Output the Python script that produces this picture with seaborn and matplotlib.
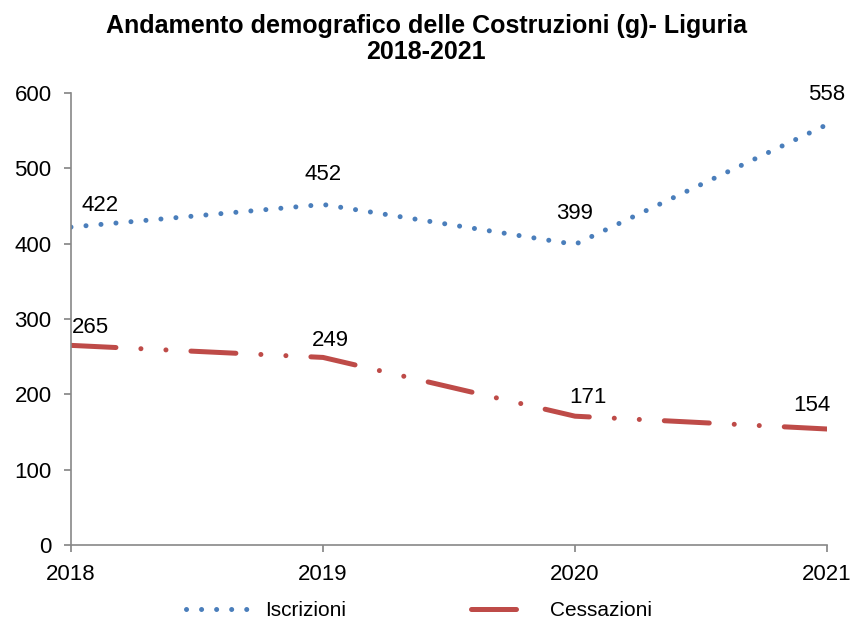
import matplotlib.pyplot as plt
import seaborn as sns
import pandas as pd

anni = [2018, 2019, 2020, 2021]
iscrizioni = [422, 452, 399, 558]
cessazioni = [265, 249, 171, 154]

sns.set_theme(style='white')
plt.rcParams['font.family'] = ['Liberation Sans', 'DejaVu Sans']
plt.rcParams['text.color'] = 'black'

df = pd.DataFrame({'anno': anni * 2,
                   'valore': iscrizioni + cessazioni,
                   'serie': ['Iscrizioni'] * 4 + ['Cessazioni'] * 4})

blue = '#4a7ebb'
red = '#be4b48'

fig, ax = plt.subplots(figsize=(8.52, 6.19), dpi=100)
fig.subplots_adjust(left=0.0833, right=0.9707, top=0.8498, bottom=0.1195)

sns.lineplot(data=df[df.serie == 'Iscrizioni'], x='anno', y='valore', ax=ax,
             color=blue, lw=3.6, label='Iscrizioni')
sns.lineplot(data=df[df.serie == 'Cessazioni'], x='anno', y='valore', ax=ax,
             color=red, lw=3.6, label='Cessazioni')

l1, l2 = ax.get_lines()[:2]
l1.set_linestyle((0, (0.01, 3.0)))
l1.set_dash_capstyle('round')
l2.set_linestyle((0, (9.0, 5.0, 0.01, 5.0, 0.01, 5.0)))
l2.set_dash_capstyle('round')
l2.set_solid_capstyle('round')

# etichette dati (offset in punti)
off_i = [(21, 15.5), (0, 21.6), (0, 22), (0, 21.6)]
off_c = [(13.7, 13), (5, 12.5), (9.4, 13.7), (-10.8, 17)]
for x, y, o in zip(anni, iscrizioni, off_i):
    ax.annotate(str(y), (x, y), xytext=o, textcoords='offset points',
                ha='center', va='center', fontsize=16, color='black')
for x, y, o in zip(anni, cessazioni, off_c):
    ax.annotate(str(y), (x, y), xytext=o, textcoords='offset points',
                ha='center', va='center', fontsize=16, color='black')

ax.set_xlim(2018, 2021)
ax.set_ylim(0, 600)
ax.set_xticks(anni)
ax.set_yticks(range(0, 601, 100))
ax.tick_params(labelsize=16, length=5, color='#888888', labelcolor='black',
               direction='out', left=True, bottom=True)
ax.tick_params(axis='y', pad=9)
ax.tick_params(axis='x', pad=9)
ax.set_xlabel('')
ax.set_ylabel('')
for s in ['top', 'right']:
    ax.spines[s].set_visible(False)
for s in ['left', 'bottom']:
    ax.spines[s].set_color('#888888')
    ax.spines[s].set_linewidth(1.2)

fig.text(0.5, 1 - 39 / 619,
         'Andamento demografico delle Costruzioni (g)- Liguria\n2018-2021',
         ha='center', va='center', fontsize=18, fontweight='bold',
         linespacing=1.1, color='black')

leg = ax.legend(loc='center', bbox_to_anchor=(0.46, -0.145), ncol=2,
                frameon=False, fontsize=15, handlelength=3.2,
                columnspacing=6.0, handletextpad=0.6)

plt.savefig('out.png', dpi=100)
